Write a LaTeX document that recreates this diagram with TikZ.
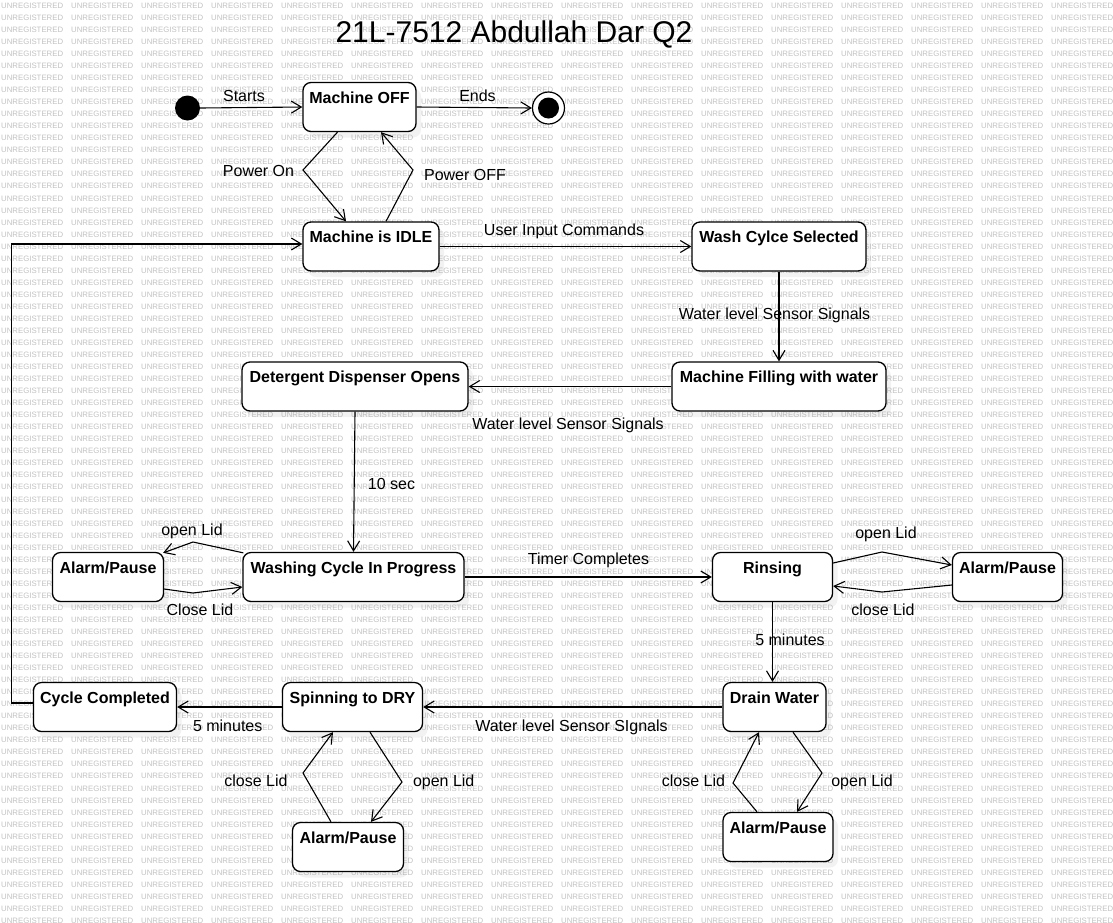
\documentclass[tikz,border=0pt]{standalone}
\usepackage{fontspec}
\setmainfont{Liberation Sans}
\usetikzlibrary{positioning}
\usetikzlibrary{calc}
\usetikzlibrary{arrows.meta, shadows}

\begin{document}
\begin{tikzpicture}[x=1pt, y=-1pt]
    % pixel grid of the reference, y goes down
    \useasboundingbox (0,0) rectangle (1113,922);
    \fill[white] (0,0) rectangle (1113,922);

    \tikzstyle{wm} = [anchor=west, inner sep=0pt, text=black!24, font={\fontsize{7.8}{8}\selectfont}]
    \tikzstyle{state} = [draw=black, line width=1.3pt, rounded corners=8pt, fill=white, minimum height=49pt, inner sep=0pt,
        drop shadow={shadow xshift=5pt, shadow yshift=-6pt, opacity=0.1}]
    \tikzstyle{statename} = [anchor=base, inner sep=0pt, font={\bfseries\fontsize{16}{19}\selectfont}]
    \tikzstyle{lbl} = [anchor=base, inner sep=0pt, font={\fontsize{16}{19}\selectfont}]
    \tikzstyle{tr} = [line width=1.1pt, -{Straight Barb[length=10pt, width=12pt]}]

    % watermark rows using forloop
    \foreach \y in {0, 1, ..., 76} {
        \foreach \x in {0, 1, ..., 15} {
            \node[wm] (W\y_\x) at ({1 + 70 * \x}, {5.7 + 12.04 * \y}) {UNREGISTERED};
        }
    }

    % title
    \node[anchor=base, inner sep=0pt, font={\fontsize{30}{34}\selectfont}] (title) at (514,42) {21L-7512 Abdullah Dar Q2};

    % start and end
    \node[circle, fill=black, minimum size=25pt, inner sep=0pt] (start) at (187.5,108) {};
    \node[circle, draw=black, fill=white, line width=1.2pt, minimum size=32pt, inner sep=0pt] (stop) at (548.5,108) {};
    \node[circle, fill=black, minimum size=21pt, inner sep=0pt] (stopdot) at (stop.center) {};

    % states
    \node[state, minimum width=113pt] (off) at (359.5,107) {};
    \node[state, minimum width=136pt] (idle) at (371,246.5) {};
    \node[state, minimum width=174pt] (wash) at (779,246.5) {};
    \node[state, minimum width=214pt] (fill) at (779,386.5) {};
    \node[state, minimum width=226pt] (det) at (355,386.5) {};
    \node[state, minimum width=221pt] (washing) at (353.5,577) {};
    \node[state, minimum width=111pt] (alarmA) at (108,577) {};
    \node[state, minimum width=120pt] (rinse) at (772.5,577) {};
    \node[state, minimum width=110pt] (alarmB) at (1007.5,577) {};
    \node[state, minimum width=143pt] (done) at (105,707) {};
    \node[state, minimum width=140pt] (spin) at (352.5,707) {};
    \node[state, minimum width=103pt] (drain) at (774.5,707) {};
    \node[state, minimum width=111pt] (alarmC) at (348,847) {};
    \node[state, minimum width=110pt] (alarmD) at (778,837) {};

    % state names in the top part of the box
    \node[statename] (offN) at ([yshift=-21.5pt]off.north) {Machine OFF};
    \node[statename] (idleN) at ([yshift=-21.5pt]idle.north) {Machine is IDLE};
    \node[statename] (washN) at ([yshift=-21.5pt]wash.north) {Wash Cylce Selected};
    \node[statename] (fillN) at ([yshift=-21.5pt]fill.north) {Machine Filling with water};
    \node[statename] (detN) at ([yshift=-21.5pt]det.north) {Detergent Dispenser Opens};
    \node[statename] (washingN) at ([yshift=-21.5pt]washing.north) {Washing Cycle In Progress};
    \node[statename] (alarmAN) at ([yshift=-21.5pt]alarmA.north) {Alarm/Pause};
    \node[statename] (rinseN) at ([yshift=-21.5pt]rinse.north) {Rinsing};
    \node[statename] (alarmBN) at ([yshift=-21.5pt]alarmB.north) {Alarm/Pause};
    \node[statename] (doneN) at ([yshift=-21.5pt]done.north) {Cycle Completed};
    \node[statename] (spinN) at ([yshift=-21.5pt]spin.north) {Spinning to DRY};
    \node[statename] (drainN) at ([yshift=-21.5pt]drain.north) {Drain Water};
    \node[statename] (alarmCN) at ([yshift=-21.5pt]alarmC.north) {Alarm/Pause};
    \node[statename] (alarmDN) at ([yshift=-21.5pt]alarmD.north) {Alarm/Pause};

    % transitions
    \draw[tr] (start.east) -- (off.west);
    \node[lbl] (lStarts) at (244,101.5) {Starts};
    \draw[tr] (off.east) -- (stop.west);
    \node[lbl] (lEnds) at (477.5,101.5) {Ends};

    \draw[tr] ([xshift=-22pt]off.south) -- (303,170) -- ([xshift=-25pt]idle.north);
    \node[lbl] (lOn) at (258.5,176) {Power On};
    \draw[tr] ([xshift=15pt]idle.north) -- (413,170) -- ([xshift=21.5pt]off.south);
    \node[lbl] (lOff) at (465,180) {Power OFF};

    \draw[tr] (idle.east) -- (wash.west);
    \node[lbl] (lUser) at (564,235) {User Input Commands};
    \draw[tr] (wash.south) -- (fill.north);
    \node[lbl] (lSens1) at (774.5,319) {Water level Sensor Signals};
    \draw[tr] (fill.west) -- (det.east);
    \node[lbl] (lSens2) at (568,429) {Water level Sensor Signals};
    \draw[tr] (det.south) -- (washing.north);
    \node[lbl] (lTen) at (391.5,489) {10 sec};

    % lid loop at the washing cycle
    \draw[tr] ([xshift=1pt, yshift=-1pt]washing.north west) -- (193,542) -- ([xshift=-1pt, yshift=-1pt]alarmA.north east);
    \node[lbl] (lOpenA) at (192,535.5) {open Lid};
    \draw[tr] ([yshift=-12pt]alarmA.east) -- (193,593) -- ([yshift=-10pt]washing.west);
    \node[lbl] (lCloseA) at (200,615) {Close Lid};

    \draw[tr] (washing.east) -- (rinse.west);
    \node[lbl] (lTimer) at (588.5,564) {Timer Completes};

    % lid loop at rinsing
    \draw[tr] ([yshift=14pt]rinse.east) -- (882,552) -- ([yshift=12pt]alarmB.west);
    \node[lbl] (lOpenB) at (886,538.5) {open Lid};
    \draw[tr] ([yshift=-8pt]alarmB.west) -- (882,592) -- ([yshift=-9pt]rinse.east);
    \node[lbl] (lCloseB) at (883,615) {close Lid};

    \draw[tr] (rinse.south) -- (rinse.south |- drain.north);
    \node[lbl] (lFive1) at (790,645.5) {5 minutes};
    \draw[tr] (drain.west) -- (spin.east);
    \node[lbl] (lSens3) at (571.5,731) {Water level Sensor SIgnals};
    \draw[tr] (spin.west) -- (done.east);
    \node[lbl] (lFive2) at (227.7,731) {5 minutes};

    % back to idle round the left side
    \draw[tr] ([yshift=4pt]done.west) -- ++(-21,0) |- ([yshift=2.5pt]idle.west);

    % lid loop at spinning
    \draw[tr] ([xshift=17.5pt]spin.south) -- (402,782) -- ([xshift=23pt]alarmC.north);
    \node[lbl] (lOpenC) at (443.7,786) {open Lid};
    \draw[tr] ([xshift=-17pt]alarmC.north) -- (303,773) -- ([xshift=-19.5pt]spin.south);
    \node[lbl] (lCloseC) at (256,786) {close Lid};

    % lid loop at draining
    \draw[tr] ([xshift=18.5pt]drain.south) -- (822,773) -- ([xshift=19pt]alarmD.north);
    \node[lbl] (lOpenD) at (862,786) {open Lid};
    \draw[tr] ([xshift=-21pt]alarmD.north) -- (733,783) -- ([xshift=-15.5pt]drain.south);
    \node[lbl] (lCloseD) at (693.5,786) {close Lid};

\end{tikzpicture}
\end{document}
